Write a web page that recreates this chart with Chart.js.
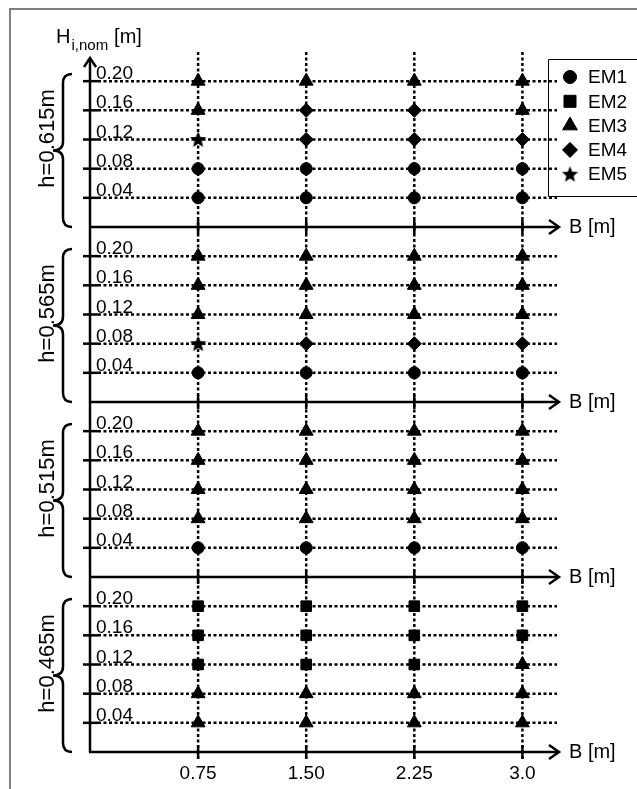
<!DOCTYPE html>
<html lang="en">
<head>
    <meta charset="UTF-8">
    <title>EM test grid</title>
    <script src="https://cdn.jsdelivr.net/npm/chart.js"></script>
    <style>
        html, body { margin: 0; padding: 0; background: #fff; }
        canvas { display: block; }
    </style>
</head>
<body>
    <canvas id="gridChart" width="637" height="789"></canvas>

    <script>
        // wave basin test matrix: which EM was run at each (B, H) for each water depth h
        const B_VALUES = [0.75, 1.50, 2.25, 3.0];
        const B_LABELS = ['0.75', '1.50', '2.25', '3.0'];
        const H_VALUES = [0.20, 0.16, 0.12, 0.08, 0.04];
        const H_LABELS = ['0.20', '0.16', '0.12', '0.08', '0.04'];
        const DEPTH_LABELS = ['h=0.615m', 'h=0.565m', 'h=0.515m', 'h=0.465m'];
        const EM_NAMES = ['EM1', 'EM2', 'EM3', 'EM4', 'EM5'];

        // rows follow H_VALUES (0.20 down to 0.04), columns follow B_VALUES, entries are EM numbers
        const runs_h0615 = [
            [3, 3, 3, 3],
            [3, 4, 4, 3],
            [5, 4, 4, 4],
            [1, 1, 1, 1],
            [1, 1, 1, 1]
        ];
        const runs_h0565 = [
            [3, 3, 3, 3],
            [3, 3, 3, 3],
            [3, 3, 3, 3],
            [5, 4, 4, 4],
            [1, 1, 1, 1]
        ];
        const runs_h0515 = [
            [3, 3, 3, 3],
            [3, 3, 3, 3],
            [3, 3, 3, 3],
            [3, 3, 3, 3],
            [1, 1, 1, 1]
        ];
        const runs_h0465 = [
            [2, 2, 2, 2],
            [2, 2, 2, 2],
            [2, 2, 2, 3],
            [3, 3, 3, 3],
            [3, 3, 3, 3]
        ];
        const PANELS = [runs_h0615, runs_h0565, runs_h0515, runs_h0465];

        // each depth panel gets its own band on the shared y scale
        const PANEL_SPAN = 0.24;
        const panelBase = p => (PANELS.length - 1 - p) * PANEL_SPAN;

        const FONT = '"Liberation Sans", Arial, Helvetica, sans-serif';

        function makeStar(size) {
            const c = document.createElement('canvas');
            c.width = size;
            c.height = size;
            const g = c.getContext('2d');
            const R = size / 2, r = R * 0.45;
            g.beginPath();
            for (let i = 0; i < 10; i++) {
                const a = -Math.PI / 2 + i * Math.PI / 5;
                const rr = i % 2 ? r : R;
                g.lineTo(R + rr * Math.cos(a), R + 0.5 + rr * Math.sin(a));
            }
            g.closePath();
            g.fillStyle = '#000';
            g.fill();
            return c;
        }

        const markerStyles = ['circle', 'rect', 'triangle', 'rectRot', makeStar(17)];
        const markerRadius = [6, 7.5, 8, 7, 8];
        const legendStyles = ['circle', 'rect', 'triangle', 'rectRot', makeStar(17)];
        const legendRadius = [6.5, 8.5, 8.5, 7.5, 8];

        function pointsFor(em) {
            const pts = [];
            PANELS.forEach((grid, p) => {
                grid.forEach((row, r) => {
                    row.forEach((code, c) => {
                        if (code === em) pts.push({ x: B_VALUES[c], y: panelBase(p) + H_VALUES[r] });
                    });
                });
            });
            return pts;
        }

        const datasets = EM_NAMES.map((name, i) => ({
            label: name,
            data: pointsFor(i + 1),
            pointStyle: markerStyles[i],
            pointRadius: markerRadius[i],
            pointBackgroundColor: '#000',
            pointBorderColor: '#000',
            pointBorderWidth: 1,
            showLine: false
        }));

        function arrowHead(ctx, tx, ty, dir) {
            // open chevron, dir: 'up' or 'right'
            ctx.beginPath();
            if (dir === 'up') {
                ctx.moveTo(tx - 6, ty + 9);
                ctx.lineTo(tx, ty);
                ctx.lineTo(tx + 6, ty + 9);
            } else {
                ctx.moveTo(tx - 10, ty - 7);
                ctx.lineTo(tx, ty);
                ctx.lineTo(tx - 10, ty + 7);
            }
            ctx.stroke();
        }

        const schemePlugin = {
            id: 'scheme',
            beforeDatasetsDraw(chart) {
                const { ctx, scales: { x, y }, chartArea } = chart;
                const x0 = x.getPixelForValue(0);
                const xEnd = chartArea.right;
                ctx.save();

                // outer frame
                ctx.strokeStyle = '#7f7f7f';
                ctx.lineWidth = 2;
                ctx.beginPath();
                ctx.moveTo(10, 789);
                ctx.lineTo(10, 9);
                ctx.lineTo(637, 9);
                ctx.stroke();

                ctx.strokeStyle = '#000';
                ctx.lineCap = 'butt';

                // dotted grid
                ctx.lineWidth = 2.5;
                ctx.setLineDash([3, 2.5]);
                const yBottom = y.getPixelForValue(0);
                B_VALUES.forEach(b => {
                    const px = x.getPixelForValue(b);
                    ctx.beginPath();
                    ctx.moveTo(px, chartArea.top);
                    ctx.lineTo(px, yBottom + 7);
                    ctx.stroke();
                });
                PANELS.forEach((grid, p) => {
                    H_VALUES.forEach(h => {
                        const py = y.getPixelForValue(panelBase(p) + h);
                        ctx.beginPath();
                        ctx.moveTo(x0 + 8, py);
                        ctx.lineTo(xEnd, py);
                        ctx.stroke();
                    });
                });
                ctx.setLineDash([]);

                // y axis with arrow
                const yTip = chartArea.top + 6;
                ctx.lineWidth = 2.5;
                ctx.beginPath();
                ctx.moveTo(x0, yBottom);
                ctx.lineTo(x0, yTip + 1);
                ctx.stroke();
                arrowHead(ctx, x0, yTip, 'up');

                ctx.fillStyle = '#000';
                PANELS.forEach((grid, p) => {
                    const base = panelBase(p);
                    const ya = y.getPixelForValue(base);

                    // B axis with arrow and ticks
                    ctx.lineWidth = 2.5;
                    ctx.beginPath();
                    ctx.moveTo(x0 - 1, ya);
                    ctx.lineTo(xEnd + 1, ya);
                    ctx.stroke();
                    arrowHead(ctx, xEnd + 2, ya, 'right');
                    B_VALUES.forEach(b => {
                        const px = x.getPixelForValue(b);
                        ctx.beginPath();
                        ctx.moveTo(px, ya - 7);
                        ctx.lineTo(px, ya + 7);
                        ctx.stroke();
                    });
                    ctx.font = '20px ' + FONT;
                    ctx.textAlign = 'left';
                    ctx.textBaseline = 'middle';
                    ctx.fillText('B [m]', xEnd + 12, ya);

                    // H ticks and labels
                    H_VALUES.forEach((h, r) => {
                        const py = y.getPixelForValue(base + h);
                        ctx.beginPath();
                        ctx.moveTo(x0 - 7, py);
                        ctx.lineTo(x0 + 8, py);
                        ctx.stroke();
                        ctx.font = '19px ' + FONT;
                        ctx.textAlign = 'left';
                        ctx.textBaseline = 'alphabetic';
                        ctx.fillText(H_LABELS[r], x0 + 6, py - 2);
                    });

                    // brace spanning the panel
                    const top = y.getPixelForValue(base + 0.21);
                    const bot = ya;
                    const mid = (top + bot) / 2;
                    const sx = x0 - 27, tx = x0 - 37, ex = x0 - 18;
                    ctx.lineWidth = 2.5;
                    ctx.beginPath();
                    ctx.moveTo(ex, top);
                    ctx.quadraticCurveTo(sx, top, sx, top + 9);
                    ctx.lineTo(sx, mid - 9);
                    ctx.quadraticCurveTo(sx, mid, tx, mid);
                    ctx.quadraticCurveTo(sx, mid, sx, mid + 9);
                    ctx.lineTo(sx, bot - 9);
                    ctx.quadraticCurveTo(sx, bot, ex, bot);
                    ctx.stroke();

                    // depth label
                    ctx.save();
                    ctx.translate(x0 - 36, mid - 12);
                    ctx.rotate(-Math.PI / 2);
                    ctx.font = '22px ' + FONT;
                    ctx.textAlign = 'center';
                    ctx.textBaseline = 'alphabetic';
                    ctx.fillText(DEPTH_LABELS[p], 0, 0);
                    ctx.restore();
                });

                // B tick labels under the lowest panel
                ctx.font = '19px ' + FONT;
                ctx.textAlign = 'center';
                ctx.textBaseline = 'middle';
                B_VALUES.forEach((b, i) => {
                    ctx.fillText(B_LABELS[i], x.getPixelForValue(b), yBottom + 22);
                });

                // y axis title H_i,nom [m]
                ctx.textAlign = 'left';
                ctx.textBaseline = 'alphabetic';
                ctx.font = '20px ' + FONT;
                ctx.fillText('H', x0 - 34, 43);
                const hw = ctx.measureText('H').width;
                ctx.font = '15px ' + FONT;
                ctx.fillText('i,nom', x0 - 34 + hw + 1, 50);
                const sw = ctx.measureText('i,nom').width;
                ctx.font = '20px ' + FONT;
                ctx.fillText('[m]', x0 - 34 + hw + sw + 7, 43);

                // legend frame
                ctx.lineWidth = 1;
                ctx.strokeStyle = '#000';
                ctx.beginPath();
                ctx.moveTo(640, 59.5);
                ctx.lineTo(548.5, 59.5);
                ctx.lineTo(548.5, 196.5);
                ctx.lineTo(640, 196.5);
                ctx.stroke();
                ctx.restore();
            },
            afterDatasetsDraw(chart) {
                const { ctx } = chart;
                ctx.save();
                ctx.fillStyle = '#000';
                ctx.strokeStyle = '#000';
                ctx.font = '19px ' + FONT;
                ctx.textAlign = 'left';
                ctx.textBaseline = 'middle';
                EM_NAMES.forEach((name, i) => {
                    const ly = 77 + i * 24.3;
                    Chart.helpers.drawPoint(ctx, {
                        pointStyle: legendStyles[i],
                        radius: legendRadius[i],
                        rotation: 0,
                        borderWidth: 1
                    }, 570, ly);
                    ctx.fillText(name, 588, ly + 1);
                });
                ctx.restore();
            }
        };

        const chart = new Chart(document.getElementById('gridChart'), {
            type: 'scatter',
            data: { datasets: datasets },
            options: {
                responsive: false,
                animation: false,
                events: [],
                layout: { padding: { left: 90, right: 80, top: 52, bottom: 37 } },
                scales: {
                    x: { type: 'linear', min: 0, max: 3.24, display: false },
                    y: { type: 'linear', min: 0, max: 0.96, display: false }
                },
                plugins: {
                    legend: { display: false },
                    tooltip: { enabled: false }
                }
            },
            plugins: [schemePlugin]
        });
    </script>
</body>
</html>
